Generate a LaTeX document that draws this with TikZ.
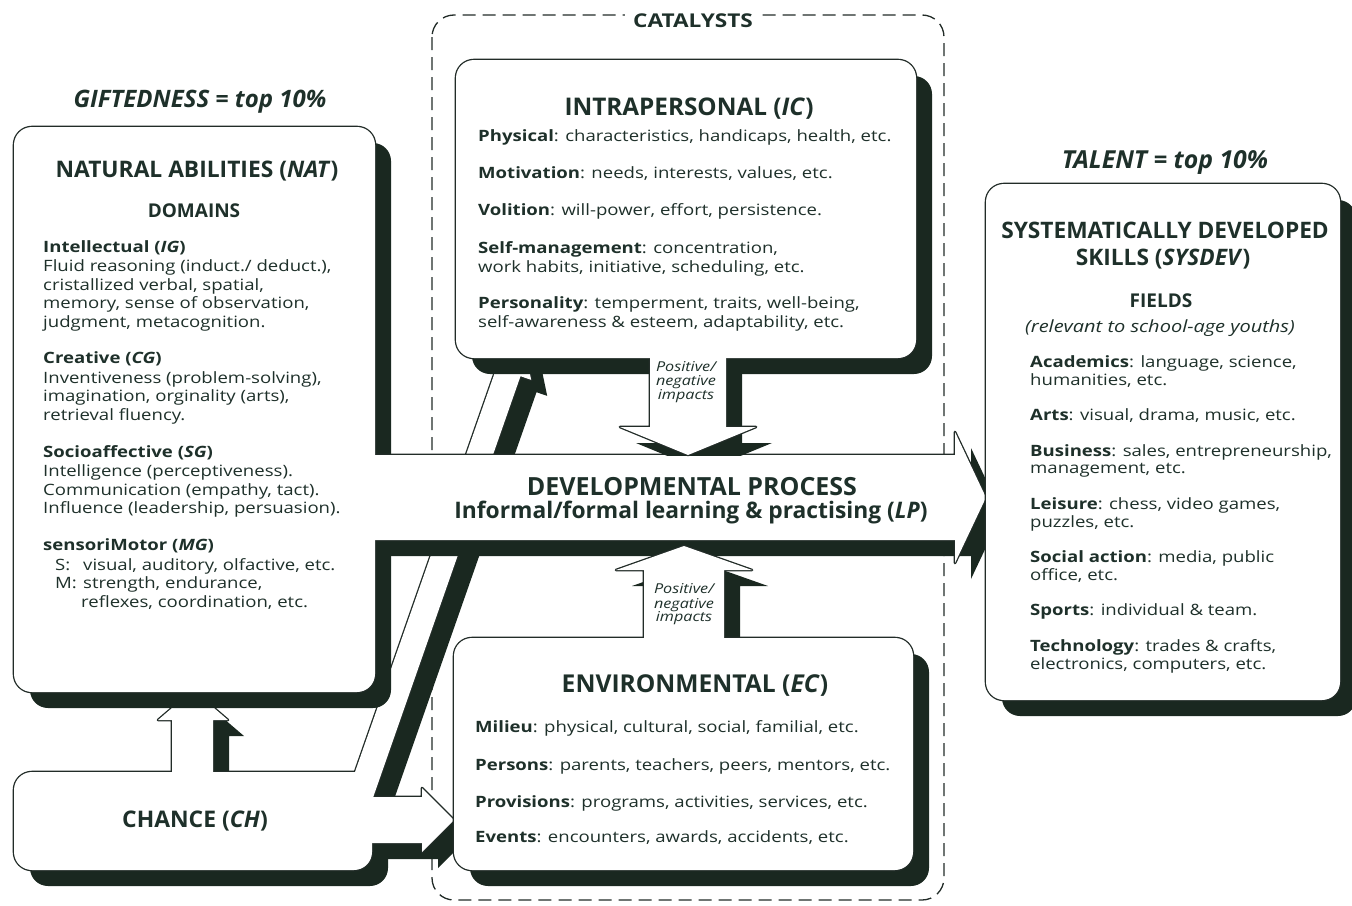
\documentclass[tikz,border=0pt]{standalone}
\usepackage{fontspec}
\setmainfont{Open Sans}
\newfontfamily\bodyf{Open Sans}[FakeStretch=1.19]
\definecolor{ink}{RGB}{30,48,42}
\definecolor{shade}{RGB}{26,40,32}
\definecolor{edge}{RGB}{34,44,40}
\newcommand\fs[1]{\fontsize{#1}{#1}\selectfont}
% shapes (pixel coordinates, y downwards)
\newcommand\pChBox{(14,772) rectangle (372,870)}
\newcommand\pChNat{(172,790) -- (172,720) -- (158,720) -- (193,690) -- (228,720) -- (213,720) -- (213,790) -- cycle}
\newcommand\pChDiag{(345.2,800) -- (496.5,367.8) -- (485.8,364.1) -- (521.7,334.2) -- (531.2,379.9) -- (520.5,376.2) -- (372.2,800) -- cycle}
\newcommand\pChEc{(360,797) -- (422,797) -- (422,788) -- (454,820) -- (422,852) -- (422,843) -- (360,843) -- cycle}
\newcommand\pNat{(14,127) rectangle (375,692)}
\newcommand\pBig{(360,455) -- (955,455) -- (955,432) -- (986,497.5) -- (955,563) -- (955,540) -- (360,540) -- cycle}
\newcommand\pIc{(456,60) rectangle (916,358)}
\newcommand\pIcArr{(650,340) -- (726,340) -- (726,427) -- (756,427) -- (688,455) -- (620,427) -- (650,427) -- cycle}
\newcommand\pEc{(454,638) rectangle (913,870)}
\newcommand\pEcArr{(644,660) -- (644,570) -- (616,570) -- (684,546) -- (752,570) -- (724,570) -- (724,660) -- cycle}
\newcommand\pSys{(986,184) rectangle (1340,700)}
\begin{document}
\begin{tikzpicture}[x=1pt,y=-1pt,
  sh/.style={fill=shade,shift={(16,16)}},
  ol/.style={draw=edge,line width=2.6pt,line join=round},
  wf/.style={fill=white},
  rc/.style={rounded corners=18pt},
  txt/.style={anchor=base west,inner sep=0pt,text=ink,font=\bodyf\fs{15.6}},
  ctr/.style={anchor=base,inner sep=0pt,text=ink},
  hd/.style={ctr,font=\bfseries\fs{24}},
  imp/.style={ctr,font=\bodyf\itshape\fs{13.6}},
]
\useasboundingbox (0,0) rectangle (1352,905);
\fill[white] (0,0) rectangle (1352,905);

% catalysts dashed frame
\draw[edge,line width=1.3pt,dash pattern=on 13pt off 7pt,rounded corners=22pt] (432,15) rectangle (944,900);
\node[ctr,font=\bodyf\bfseries\fs{19},fill=white,inner xsep=8pt,inner ysep=2pt] (cat) at (693,27) {CATALYSTS};

% chance group
\fill[sh,rc] \pChBox;
\fill[sh] \pChNat;
\fill[sh] \pChDiag;
\fill[sh] \pChEc;
\draw[ol,rc] \pChBox;
\draw[ol] \pChNat;
\draw[ol] \pChDiag;
\draw[ol] \pChEc;
\fill[wf,rc] \pChBox;
\fill[wf] \pChNat;
\fill[wf] \pChDiag;
\fill[wf] \pChEc;

% natural abilities + developmental process
\fill[sh,rc] \pNat;
\fill[sh] \pBig;
\draw[ol,rc] \pNat;
\draw[ol] \pBig;
\fill[wf,rc] \pNat;
\fill[wf] \pBig;

% intrapersonal
\begin{scope}
\clip (0,0) rectangle (1352,455);
\fill[sh,rc] \pIc;
\fill[sh] \pIcArr;
\end{scope}
\draw[ol,rc] \pIc;
\draw[ol] \pIcArr;
\fill[wf,rc] \pIc;
\fill[wf] \pIcArr;

% environmental
\fill[sh,rc] \pEc;
\fill[sh] \pEcArr;
\draw[ol,rc] \pEc;
\draw[ol] \pEcArr;
\fill[wf,rc] \pEc;
\fill[wf] \pEcArr;

% skills
\fill[sh,rc] \pSys;
\draw[ol,rc] \pSys;
\fill[wf,rc] \pSys;

% ---- texts ----
\node[ctr,font=\bfseries\itshape\fs{24}] (gift) at (200,107) {GIFTEDNESS = top 10\%};
\node[hd,font=\bfseries\fs{22.8}] (natT) at (197,177) {NATURAL ABILITIES (\textit{NAT})};
\node[ctr,font=\bfseries\fs{19}] (dom) at (194,217) {DOMAINS};
\node[txt] (ig) at (43,252) {\textbf{Intellectual (\textit{IG})}};
\node[txt] (ig1) at (43,271) {Fluid reasoning (induct./ deduct.),};
\node[txt] (ig2) at (43,290) {cristallized verbal, spatial,};
\node[txt] (ig3) at (43,308) {memory, sense of observation,};
\node[txt] (ig4) at (43,327) {judgment, metacognition.};
\node[txt] (cg) at (43,363) {\textbf{Creative (\textit{CG})}};
\node[txt] (cg1) at (43,383) {Inventiveness (problem-solving),};
\node[txt] (cg2) at (43,401) {imagination, orginality (arts),};
\node[txt] (cg3) at (43,420) {retrieval fluency.};
\node[txt] (sg) at (43,457) {\textbf{Socioaffective (\textit{SG})}};
\node[txt] (sg1) at (43,476) {Intelligence (perceptiveness).};
\node[txt] (sg2) at (43,495) {Communication (empathy, tact).};
\node[txt] (sg3) at (43,513) {Influence (leadership, persuasion).};
\node[txt] (mg) at (43,550) {\textbf{sensoriMotor (\textit{MG})}};
\node[txt] (mgs) at (55,570) {S:};
\node[txt] (mg1) at (83,570) {visual, auditory, olfactive, etc.};
\node[txt] (mgm) at (55,588) {M:};
\node[txt] (mg2) at (83,588) {strength, endurance,};
\node[txt] (mg3) at (81,607) {reflexes, coordination, etc.};

\node[hd,font=\bfseries\fs{24.3}] (icT) at (689,115) {INTRAPERSONAL (\textit{IC})};
\node[txt] (ic1) at (478,141) {\textbf{Physical}: characteristics, handicaps, health, etc.};
\node[txt] (ic2) at (478,178) {\textbf{Motivation}: needs, interests, values, etc.};
\node[txt] (ic3) at (478,215) {\textbf{Volition}: will-power, effort, persistence.};
\node[txt] (ic4) at (478,253) {\textbf{Self-management}: concentration,};
\node[txt] (ic5) at (478,272) {work habits, initiative, scheduling, etc.};
\node[txt] (ic6) at (478,308) {\textbf{Personality}: temperment, traits, well-being,};
\node[txt] (ic7) at (478,327) {self-awareness \& esteem, adaptability, etc.};

\node[imp] (pu1) at (686,371) {Positive/};
\node[imp] (pu2) at (686,385) {negative};
\node[imp] (pu3) at (686,399) {impacts};

\node[hd,font=\bfseries\fs{25}] (lpT) at (692,495) {DEVELOPMENTAL PROCESS};
\node[hd,font=\bfseries\fs{22.8}] (lp) at (691,518) {Informal/formal learning \& practising (\textit{LP})};

\node[imp] (pl1) at (684,593) {Positive/};
\node[imp] (pl2) at (684,608) {negative};
\node[imp] (pl3) at (684,621) {impacts};

\node[hd,font=\bfseries\fs{24.6}] (ecT) at (695,692) {ENVIRONMENTAL (\textit{EC})};
\node[txt] (ec1) at (475,732) {\textbf{Milieu}: physical, cultural, social, familial, etc.};
\node[txt] (ec2) at (475,770) {\textbf{Persons}: parents, teachers, peers, mentors, etc.};
\node[txt] (ec3) at (475,807) {\textbf{Provisions}: programs, activities, services, etc.};
\node[txt] (ec4) at (475,842) {\textbf{Events}: encounters, awards, accidents, etc.};

\node[hd,font=\bfseries\fs{22.9}] (ch) at (195,827) {CHANCE (\textit{CH})};

\node[ctr,font=\bfseries\itshape\fs{24.8}] (tal) at (1165,168) {TALENT = top 10\%};
\node[hd,font=\bfseries\fs{22.7}] (sysT1) at (1165,238) {SYSTEMATICALLY DEVELOPED};
\node[hd,font=\bfseries\fs{22.7}] (sysT2) at (1163,265) {SKILLS (\textit{SYSDEV})};
\node[ctr,font=\bfseries\fs{19}] (fld) at (1161,307) {FIELDS};
\node[ctr,font=\bodyf\itshape\fs{16.8}] (rel) at (1160,332) {(relevant to school-age youths)};
\node[txt] (s1) at (1030,367) {\textbf{Academics}: language, science,};
\node[txt] (s2) at (1030,385) {humanities, etc.};
\node[txt] (s3) at (1030,420) {\textbf{Arts}: visual, drama, music, etc.};
\node[txt] (s4) at (1030,456) {\textbf{Business}: sales, entrepreneurship,};
\node[txt] (s5) at (1030,473) {management, etc.};
\node[txt] (s6) at (1030,509) {\textbf{Leisure}: chess, video games,};
\node[txt] (s7) at (1030,527) {puzzles, etc.};
\node[txt] (s8) at (1030,562) {\textbf{Social action}: media, public};
\node[txt] (s9) at (1030,580) {office, etc.};
\node[txt] (s10) at (1030,615) {\textbf{Sports}: individual \& team.};
\node[txt] (s11) at (1030,651) {\textbf{Technology}: trades \& crafts,};
\node[txt] (s12) at (1030,669) {electronics, computers, etc.};
\end{tikzpicture}
\end{document}
